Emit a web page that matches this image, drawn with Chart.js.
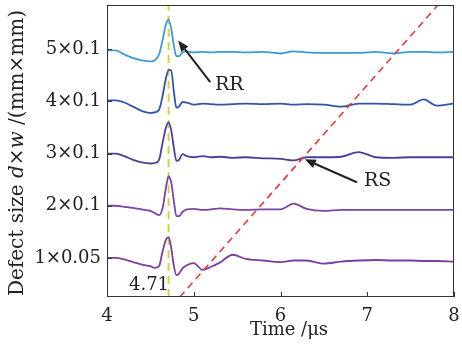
<!DOCTYPE html>
<html lang="en">
<head>
  <meta charset="UTF-8">
  <title>Defect size vs time</title>
  <script src="https://cdn.jsdelivr.net/npm/chart.js"></script>
  <style>
    body { margin: 0; background: #fff; }
    .wrap { width: 462px; height: 352px; }
  </style>
</head>
<body>
  <div class="wrap"><canvas id="chart"></canvas></div>
  <script>
    // sample times (us)
    const time = [4.0, 4.1, 4.2, 4.3, 4.4, 4.5, 4.55, 4.6, 4.64, 4.68, 4.71, 4.74, 4.77, 4.8, 4.83, 4.87, 4.92,
                  5.0, 5.1, 5.2, 5.3, 5.45, 5.6, 5.8, 6.0, 6.15, 6.3, 6.5, 6.7, 6.9, 7.1, 7.3, 7.5, 7.65, 7.8, 8.0];

    // offset traces, one per defect size
    const trace1 = [1.0, 1.0, 0.97, 0.92, 0.87, 0.84, 0.81, 0.84, 1.12, 1.35, 1.40, 1.20, 0.85, 0.67, 0.70, 0.80, 0.86,
                    0.90, 0.77, 0.83, 0.91, 1.06, 0.98, 0.95, 0.92, 0.95, 0.95, 0.89, 0.93, 0.95, 0.96, 0.95, 0.95, 0.94, 0.94, 0.93];
    const trace2 = [2.0, 2.0, 1.98, 1.96, 1.93, 1.90, 1.86, 1.82, 1.95, 2.35, 2.57, 2.45, 2.10, 1.80, 1.80, 1.88, 1.93,
                    1.94, 1.92, 1.93, 1.95, 1.93, 1.92, 1.93, 1.93, 2.04, 1.94, 1.90, 1.92, 1.92, 1.92, 1.92, 1.92, 1.92, 1.92, 1.92];
    const trace3 = [3.0, 3.0, 2.95, 2.88, 2.83, 2.81, 2.82, 2.88, 3.20, 3.50, 3.60, 3.45, 3.12, 2.86, 2.88, 2.99, 2.95,
                    2.93, 2.95, 2.93, 2.94, 2.92, 2.93, 2.91, 2.90, 2.87, 2.93, 2.93, 2.94, 3.03, 2.93, 2.92, 2.93, 2.93, 2.93, 2.93];
    const trace4 = [4.02, 4.02, 3.98, 3.90, 3.82, 3.78, 3.79, 3.84, 4.10, 4.45, 4.60, 4.60, 4.20, 3.88, 3.90, 3.99, 3.98,
                    3.94, 3.96, 3.95, 3.94, 3.95, 3.96, 3.95, 3.96, 3.94, 3.95, 3.94, 3.90, 3.96, 3.96, 3.95, 3.94, 4.04, 3.92, 3.96];
    const trace5 = [4.98, 4.98, 4.90, 4.83, 4.79, 4.77, 4.79, 4.90, 5.17, 5.48, 5.57, 5.40, 5.08, 4.87, 4.87, 4.94, 4.96,
                    4.94, 4.95, 4.94, 4.95, 4.95, 4.94, 4.95, 4.92, 4.96, 4.94, 4.93, 4.93, 4.93, 4.95, 4.92, 4.95, 4.95, 4.94, 4.95];

    const yTickValues = [1, 2, 3, 4, 5];
    const yTickLabels = ['1×0.05', '2×0.1', '3×0.1', '4×0.1', '5×0.1'];
    const xTicks = [4, 5, 6, 7, 8];

    // RS line end points and RR marker time
    const rsTime = [4.84, 7.81];
    const rsLevel = [0.25, 5.84];
    const rrTime = 4.71;

    const Y_MIN = 0.25, Y_MAX = 5.85;
    const FONT = "'DejaVu Serif', serif";

    function pts(ys) {
      return time.map((t, i) => ({ x: t, y: ys[i] }));
    }

    function drawArrow(ctx, x1, y1, x2, y2) {
      const ang = Math.atan2(y2 - y1, x2 - x1);
      const len = 11, half = 4.5;
      const bx = x2 - len * Math.cos(ang), by = y2 - len * Math.sin(ang);
      ctx.beginPath();
      ctx.moveTo(x1, y1);
      ctx.lineTo(bx, by);
      ctx.stroke();
      ctx.beginPath();
      ctx.moveTo(x2, y2);
      ctx.lineTo(bx + half * Math.sin(ang), by - half * Math.cos(ang));
      ctx.lineTo(bx - half * Math.sin(ang), by + half * Math.cos(ang));
      ctx.closePath();
      ctx.fill();
    }

    const decor = {
      id: 'decor',
      afterDraw(chart) {
        const { ctx, chartArea: a, scales: { x, y } } = chart;
        ctx.save();

        // box + inward ticks
        ctx.strokeStyle = '#333';
        ctx.lineWidth = 1;
        ctx.strokeRect(a.left + 0.5, a.top + 0.5, a.width - 1, a.height - 1);
        ctx.beginPath();
        xTicks.forEach(v => {
          const px = Math.round(x.getPixelForValue(v)) + 0.5;
          ctx.moveTo(px, a.bottom);
          ctx.lineTo(px, a.bottom - 5);
        });
        yTickValues.forEach(v => {
          const py = Math.round(y.getPixelForValue(v)) + 0.5;
          ctx.moveTo(a.left, py);
          ctx.lineTo(a.left + 5, py);
        });
        ctx.stroke();

        // arrows + labels
        ctx.fillStyle = '#222';
        ctx.strokeStyle = '#222';
        ctx.lineWidth = 2;
        drawArrow(ctx, x.getPixelForValue(5.19), y.getPixelForValue(4.37),
                       x.getPixelForValue(4.82), y.getPixelForValue(5.17));
        drawArrow(ctx, x.getPixelForValue(6.88), y.getPixelForValue(2.45),
                       x.getPixelForValue(6.28), y.getPixelForValue(2.89));

        ctx.font = '19px ' + FONT;
        ctx.textAlign = 'center';
        ctx.textBaseline = 'middle';
        ctx.fillText('RR', x.getPixelForValue(5.41), y.getPixelForValue(4.31));
        ctx.fillText('RS', x.getPixelForValue(7.12), y.getPixelForValue(2.47));

        ctx.font = '18px ' + FONT;
        ctx.fillText('4.71', 149, 285);

        // axis titles
        ctx.font = '18px ' + FONT;
        ctx.fillText('Time /μs', 289, 330);

        const size = '20px ';
        const parts = [['Defect size ', ''], ['d', 'italic '], ['×', ''], ['w', 'italic '], [' /(mm×mm)', '']];
        let total = 0;
        parts.forEach(p => { ctx.font = p[1] + size + FONT; total += ctx.measureText(p[0]).width; });
        ctx.translate(18, 153);
        ctx.rotate(-Math.PI / 2);
        ctx.textAlign = 'left';
        let cx = -total / 2;
        parts.forEach(p => {
          ctx.font = p[1] + size + FONT;
          ctx.fillText(p[0], cx, 0);
          cx += ctx.measureText(p[0]).width;
        });
        ctx.restore();
      }
    };

    Chart.defaults.font.family = FONT;
    Chart.defaults.color = '#222';

    new Chart(document.getElementById('chart'), {
      type: 'line',
      data: {
        datasets: [
          { data: rsTime.map((t, i) => ({ x: t, y: rsLevel[i] })), borderColor: '#e03a3a', borderWidth: 1.6, borderDash: [7, 5], tension: 0 },
          { data: pts(trace5), borderColor: '#3a9bd8' },
          { data: pts(trace4), borderColor: '#2e56a8' },
          { data: pts(trace3), borderColor: '#4a3f9a' },
          { data: pts(trace2), borderColor: '#7a45a8' },
          { data: pts(trace1), borderColor: '#7b3fa0' },
          { data: [{ x: rrTime, y: Y_MIN }, { x: rrTime, y: Y_MAX }], borderColor: '#d8d040', borderWidth: 2, borderDash: [8, 5], tension: 0 }
        ]
      },
      options: {
        responsive: true,
        maintainAspectRatio: false,
        animation: false,
        layout: { padding: { top: 5, right: 8, left: 0, bottom: 0 } },
        elements: {
          point: { radius: 0 },
          line: { borderWidth: 1.8, tension: 0.4, cubicInterpolationMode: 'monotone', fill: false }
        },
        plugins: { legend: { display: false }, tooltip: { enabled: false } },
        scales: {
          x: {
            type: 'linear',
            min: 4, max: 8,
            afterBuildTicks: s => { s.ticks = xTicks.map(v => ({ value: v })); },
            afterFit: s => { s.height = 55; s.paddingLeft = 0; s.paddingRight = 0; },
            grid: { display: false, drawTicks: false },
            border: { display: false },
            ticks: { padding: 9, font: { size: 18 }, maxRotation: 0 }
          },
          y: {
            min: Y_MIN, max: Y_MAX,
            afterBuildTicks: s => { s.ticks = yTickValues.map(v => ({ value: v })); },
            afterFit: s => { s.width = 107; s.paddingTop = 0; s.paddingBottom = 0; },
            grid: { display: false, drawTicks: false },
            border: { display: false },
            ticks: { padding: 6, font: { size: 18 }, callback: v => yTickLabels[yTickValues.indexOf(v)] }
          }
        }
      },
      plugins: [decor]
    });
  </script>
</body>
</html>
